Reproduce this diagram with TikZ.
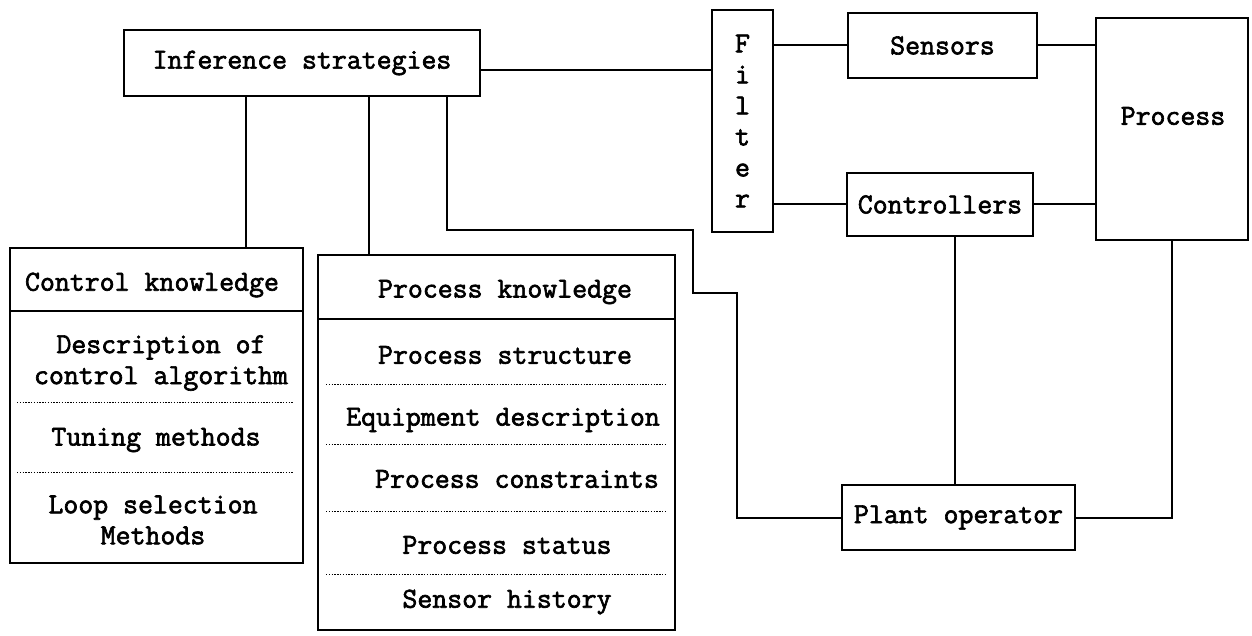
\documentclass[tikz,border=0pt]{standalone}
\usepackage{fontspec}
\newfontfamily\diagfont{Latin Modern Mono}[FakeBold=2.2]
\begin{document}
\begin{tikzpicture}[x=1pt,y=-1pt,
  box/.style={draw, line width=2pt, rectangle, inner sep=0pt},
  lbl/.style={font=\diagfont\fontsize{29}{31}\selectfont, inner sep=0pt, align=center},
  wire/.style={line width=2pt},
  sep/.style={line width=1.8pt},
  dotsep/.style={line width=1pt, dash pattern=on 1.4pt off 1.4pt}]
\useasboundingbox (0,0) rectangle (1252,636);

% top-level strategy box
\node[box, lbl, minimum width=356pt, minimum height=66pt] (inf) at (302,63) {Inference strategies};

% control knowledge table
\node[box, minimum width=293pt, minimum height=315pt] (ctrl) at (156.5,405.5) {};
\draw[sep] ([yshift=-64pt]ctrl.north west) -- ([yshift=-64pt]ctrl.north east);
\draw[dotsep] ([xshift=8pt,yshift=-155pt]ctrl.north west) -- ([xshift=-10pt,yshift=-155pt]ctrl.north east);
\draw[dotsep] ([xshift=8pt,yshift=-225pt]ctrl.north west) -- ([xshift=-10pt,yshift=-225pt]ctrl.north east);
\node[lbl] (ck) at (152,285) {Control knowledge};
\node[lbl] (cda) at (161,363) {Description of\\control algorithm};
\node[lbl] (ctm) at (156,440) {Tuning methods};
\node[lbl] (cls) at (153,520) {Loop selection\\Methods};

% process knowledge table
\node[box, minimum width=357pt, minimum height=375pt] (pk) at (496.5,442.5) {};
\draw[sep] ([yshift=-65pt]pk.north west) -- ([yshift=-65pt]pk.north east);
\foreach \d in {130,190,257,320}
  \draw[dotsep] ([xshift=9pt,yshift=-\d pt]pk.north west) -- ([xshift=-10pt,yshift=-\d pt]pk.north east);
\node[lbl] (pkh) at (505,292) {Process knowledge};
\node[lbl] (pst) at (505,355) {Process structure};
\node[lbl] (peq) at (503,420) {Equipment description};
\node[lbl] (pco) at (517,479) {Process constraints};
\node[lbl] (pss) at (507,545) {Process status};
\node[lbl] (psh) at (507,602) {Sensor history};

% plant side
\node[box, lbl, minimum width=61pt, minimum height=222pt] (filt) at (742.5,121) {F\\i\\l\\t\\e\\r};
\node[box, lbl, minimum width=189pt, minimum height=65pt] (sens) at (942.5,45.5) {Sensors};
\node[box, lbl, minimum width=186pt, minimum height=63pt] (ctl) at (940,204.5) {Controllers};
\node[box, minimum width=152pt, minimum height=222pt] (proc) at (1172,129) {};
\node[lbl] (proclbl) at (1173,116) {Process};
\node[box, lbl, minimum width=233pt, minimum height=65pt] (plant) at (958.5,517.5) {Plant operator};

% routing points of the operator link
\coordinate (j1) at (693,230);
\coordinate (j2) at (737,293);

% connectors
\draw[wire] ([yshift=-7pt]inf.east) -- ([yshift=-7pt]inf.east -| filt.west);
\draw[wire] ([xshift=-56pt]inf.south) -- ([xshift=-56pt]inf.south |- ctrl.north);
\draw[wire] ([xshift=67pt]inf.south) -- ([xshift=67pt]inf.south |- pk.north);
\draw[wire] ([xshift=145pt]inf.south) |- (j1) |- (j2) |- (plant.west);
\draw[wire] (sens.west -| filt.east) -- (sens.west);
\draw[wire] (ctl.west -| filt.east) -- (ctl.west);
\draw[wire] (sens.east) -- (sens.east -| proc.west);
\draw[wire] (ctl.east) -- (ctl.east -| proc.west);
\draw[wire] ([xshift=-4pt]plant.north) -- ([xshift=-4pt]plant.north |- ctl.south);
\draw[wire] (proc.south) |- (plant.east);
\end{tikzpicture}
\end{document}
